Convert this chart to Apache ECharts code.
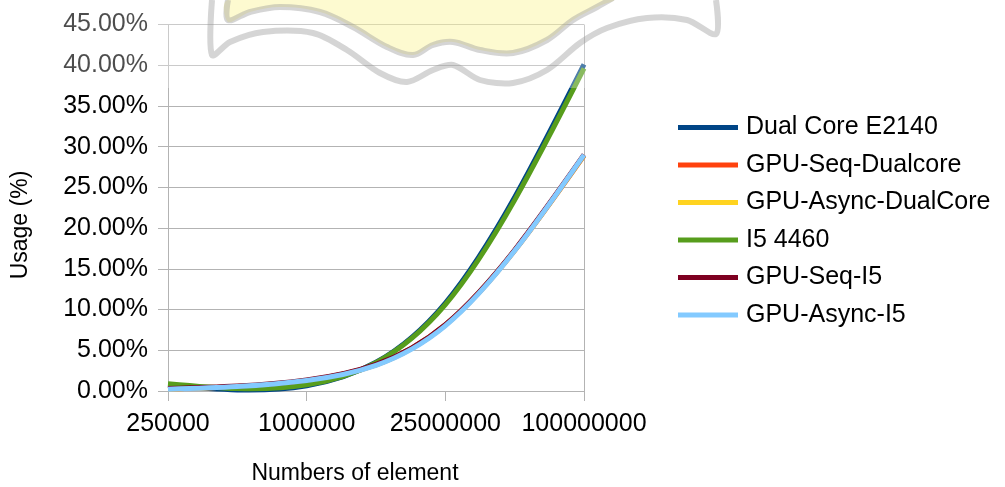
<!DOCTYPE html>
<html>
<head>
<meta charset="utf-8">
<script src="https://cdn.jsdelivr.net/npm/echarts@6/dist/echarts.min.js"></script>
<style>
  html, body { margin: 0; padding: 0; background: #fff; }
  #chart { width: 1005px; height: 487px; }
</style>
</head>
<body>
<div id="chart"></div>
<script>
// Array sizes tested (x axis categories)
const categories = ['250000', '1000000', '25000000', '100000000'];

// CPU usage in percent for each configuration
const dualCoreE2140     = [0.70, 0.65, 10.8, 40.1];
const gpuSeqDualcore    = [0.25, 1.30, 8.10, 28.9];
const gpuAsyncDualCore  = [0.25, 1.30, 8.10, 28.9];
const i5_4460           = [0.90, 0.75, 10.6, 39.6];
const gpuSeqI5          = [0.30, 1.35, 8.15, 29.0];
const gpuAsyncI5        = [0.22, 1.30, 8.00, 29.0];

const seriesNames = ['Dual Core E2140', 'GPU-Seq-Dualcore', 'GPU-Async-DualCore',
                     'I5 4460', 'GPU-Seq-I5', 'GPU-Async-I5'];
const seriesValues = [dualCoreE2140, gpuSeqDualcore, gpuAsyncDualCore,
                      i5_4460, gpuSeqI5, gpuAsyncI5];
const seriesColors = ['#004586', '#ff420e', '#ffd320', '#579d1c', '#7e0021', '#83caff'];

// y axis range in percent
const yMin = 0, yMax = 45, yStep = 5;

const FONT = 'Liberation Sans';
const GRID_COLOR = '#b3b3b3';

const chart = echarts.init(document.getElementById('chart'), null, { renderer: 'canvas' });

// Natural cubic spline through pixel points (equally spaced in x),
// returned as an SVG path of cubic Bezier segments.
function splinePath(pts) {
  const n = pts.length;
  const h = (pts[n - 1][0] - pts[0][0]) / (n - 1);
  // second derivatives, natural end conditions
  const M = new Array(n).fill(0);
  if (n > 2) {
    const a = [], b = [], c = [], d = [];
    for (let i = 1; i < n - 1; i++) {
      a.push(1); b.push(4); c.push(1);
      d.push(6 * (pts[i - 1][1] - 2 * pts[i][1] + pts[i + 1][1]) / (h * h));
    }
    const m = d.length;
    for (let i = 1; i < m; i++) {
      const w = a[i] / b[i - 1];
      b[i] -= w * c[i - 1];
      d[i] -= w * d[i - 1];
    }
    const sol = new Array(m);
    sol[m - 1] = d[m - 1] / b[m - 1];
    for (let i = m - 2; i >= 0; i--) sol[i] = (d[i] - c[i] * sol[i + 1]) / b[i];
    for (let i = 0; i < m; i++) M[i + 1] = sol[i];
  }
  // slopes at knots
  const slope = [];
  for (let i = 0; i < n; i++) {
    if (i < n - 1) {
      slope.push((pts[i + 1][1] - pts[i][1]) / h - h * (2 * M[i] + M[i + 1]) / 6);
    } else {
      slope.push((pts[i][1] - pts[i - 1][1]) / h + h * (M[i - 1] + 2 * M[i]) / 6);
    }
  }
  let path = 'M' + pts[0][0] + ' ' + pts[0][1];
  for (let i = 0; i < n - 1; i++) {
    const [x0, y0] = pts[i];
    const [x1, y1] = pts[i + 1];
    const k = h / 3;
    path += ' C' + (x0 + k) + ' ' + (y0 + slope[i] * k) + ' ' +
            (x1 - k) + ' ' + (y1 - slope[i + 1] * k) + ' ' + x1 + ' ' + y1;
  }
  return path;
}

function makeSeries(name, values, color) {
  return {
    name: name,
    type: 'custom',
    coordinateSystem: 'cartesian2d',
    data: values.map((v, i) => [i, v]),
    encode: { x: 0, y: 1 },
    itemStyle: { color: color },
    renderItem: function (params, api) {
      if (params.dataIndex !== 0) return null;
      const pts = values.map((v, i) => api.coord([i, v]));
      return {
        type: 'path',
        shape: { pathData: splinePath(pts) },
        style: { stroke: color, lineWidth: 5, fill: 'none', lineCap: 'butt' },
        silent: true
      };
    }
  };
}

// faint logo overlay across the top of the page
const logoBandStyle = { stroke: 'rgba(150,150,150,0.4)', lineWidth: 6, fill: null, lineJoin: 'round' };
const logoGraphics = [
  { type: 'rect', z: 50, silent: true,
    shape: { x: 0, y: 0, width: 1005, height: 88 },
    style: { fill: 'rgba(255,255,255,0.3)' } },
  { type: 'polygon', z: 51, silent: true,
    shape: { smooth: 0.35, points: [[228,0],[228,22],[250,12],[280,7],[320,12],[353,27],[387,47],[413,55],
      [433,45],[453,42],[480,50],[513,53],[547,40],[573,20],[597,7],[613,0]] },
    style: { fill: 'rgba(250,240,120,0.35)' } },
  { type: 'polyline', z: 52, silent: true,
    shape: { smooth: 0.35, points: [[228,0],[228,20],[250,12],[280,7],[320,12],[353,27],[387,47],[413,55],
      [433,45],[453,42],[480,50],[513,53],[547,40],[573,20],[597,7],[613,-2]] },
    style: logoBandStyle },
  { type: 'polyline', z: 52, silent: true,
    shape: { smooth: 0.3, points: [[212,0],[212,55],[230,42],[263,32],[313,33],[347,50],[380,73],[407,82],
      [433,70],[453,65],[480,80],[513,83],[547,70],[580,43],[607,28],[647,18],[687,20],[716,34],[716,0]] },
    style: logoBandStyle }
];

const option = {
  animation: false,
  backgroundColor: '#ffffff',
  textStyle: { fontFamily: FONT },
  color: seriesColors,
  grid: { left: 168, right: 421, top: 24.5, bottom: 96 },
  legend: {
    orient: 'vertical',
    left: 678,
    top: 115,
    padding: 0,
    itemWidth: 60,
    itemHeight: 5,
    itemGap: 12.5,
    icon: 'rect',
    data: seriesNames,
    textStyle: { fontFamily: FONT, fontSize: 25, lineHeight: 25, color: '#000', padding: [0, 0, 0, 3] }
  },
  xAxis: {
    type: 'category',
    data: categories,
    boundaryGap: false,
    axisLine: { lineStyle: { color: GRID_COLOR, width: 1 } },
    axisTick: { show: true, length: 10, interval: 0, lineStyle: { color: GRID_COLOR } },
    axisLabel: { fontFamily: FONT, fontSize: 25, color: '#000', margin: 21, interval: 0 },
    splitLine: { show: true, interval: (i) => i === categories.length - 1,
                 lineStyle: { color: GRID_COLOR, width: 1 } }
  },
  yAxis: {
    type: 'value',
    min: yMin, max: yMax, interval: yStep,
    axisLine: { show: true, lineStyle: { color: GRID_COLOR, width: 1 } },
    axisTick: { show: true, length: 10, lineStyle: { color: GRID_COLOR } },
    axisLabel: { fontFamily: FONT, fontSize: 25, color: '#000', margin: 20,
                 formatter: (v) => v.toFixed(2) + '%' },
    splitLine: { show: true, lineStyle: { color: GRID_COLOR, width: 1 } }
  },
  series: seriesNames.map((name, i) => makeSeries(name, seriesValues[i], seriesColors[i])),
  graphic: [
    { type: 'text', silent: true, z: 10,
      x: 355, y: 474,
      style: { text: 'Numbers of element', fontFamily: FONT, fontSize: 23,
               fill: '#000', align: 'center', verticalAlign: 'middle' } },
    { type: 'text', silent: true, z: 10,
      x: 21, y: 225, rotation: Math.PI / 2,
      style: { text: 'Usage (%)', fontFamily: FONT, fontSize: 23,
               fill: '#000', align: 'center', verticalAlign: 'middle' } }
  ].concat(logoGraphics)
};

chart.setOption(option);
</script>
</body>
</html>
